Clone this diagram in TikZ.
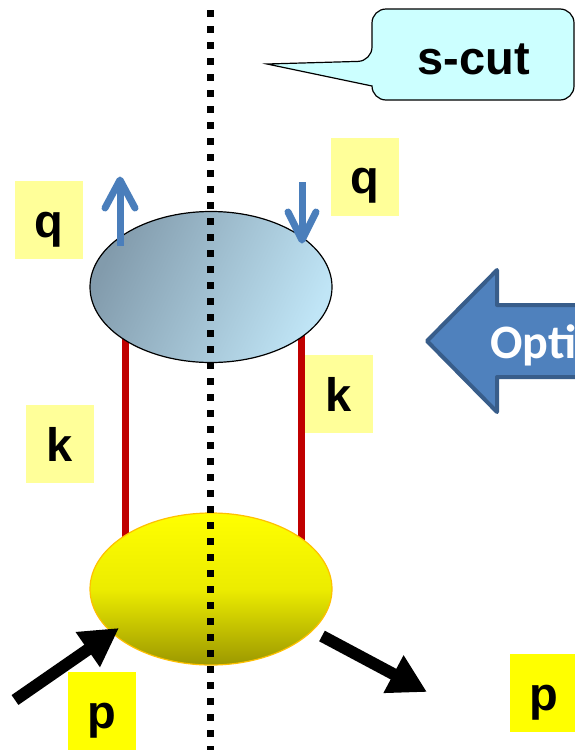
\documentclass[tikz,border=0pt]{standalone}
\usepackage{fontspec}
\setmainfont{Liberation Sans}
\newfontfamily\calfont{Carlito}
\usetikzlibrary{arrows.meta,shapes.geometric}

\definecolor{qblue}{RGB}{74,126,187}
\definecolor{cutred}{RGB}{192,0,0}
\definecolor{paleyel}{RGB}{255,255,153}
\definecolor{brightyel}{RGB}{255,255,0}
\definecolor{callcyan}{RGB}{204,255,255}
\definecolor{bigfill}{RGB}{79,129,189}
\definecolor{bigedge}{RGB}{56,93,138}
\definecolor{blobdark}{RGB}{130,155,172}
\definecolor{bloblight}{RGB}{192,229,246}
\definecolor{softtop}{RGB}{255,255,0}
\definecolor{softmid}{RGB}{236,236,0}
\definecolor{softbot}{RGB}{156,152,0}
\definecolor{softedge}{RGB}{255,192,0}

\begin{document}
\begin{tikzpicture}[x=1pt,y=-1pt,
  lbl/.style={font=\fontsize{47}{47}\selectfont\bfseries, fill=paleyel,
    minimum width=68pt, minimum height=78pt, inner sep=0pt,
    text height=34pt, text depth=0pt},
  plbl/.style={lbl, fill=brightyel},
  cutline/.style={line width=7pt, dash pattern=on 7pt off 9pt},
  rung/.style={cutred, line width=7pt},
  flow/.style={line width=12pt, -{Triangle[length=38pt,width=40pt]}},
  smallarrow/.style={qblue, line width=7pt},
  barb/.style={qblue, line width=7pt, line cap=round, line join=round}]
\useasboundingbox (0,0) rectangle (575,750);
\clip (0,0) rectangle (575,750);

% rungs between the two blobs
\coordinate (la) at (125,330);
\coordinate (lb) at (125,545);
\coordinate (ra) at (301,330);
\coordinate (rb) at (301,543);
\draw[rung] (la) -- (lb);
\draw[rung] (ra) -- (rb);

% upper blob
\node[ellipse, draw=black, line width=1.2pt, minimum width=242pt, minimum height=151pt,
  inner sep=0pt, top color=blobdark, bottom color=bloblight, shading angle=65]
  (blob) at (211,287) {};

% lower blob
\node[ellipse, draw=softedge, line width=1.2pt, minimum width=242pt, minimum height=152pt,
  inner sep=0pt, top color=softtop, bottom color=softbot, middle color=softmid]
  (soft) at (211,589) {};

% small blue arrows on the upper blob
\coordinate (uq0) at (120,246);
\coordinate (uq1) at (120,184);
\draw[smallarrow] (uq0) -- (uq1);
\draw[barb] (105,208) -- (120,180) -- (135,208);
\coordinate (dq0) at (302,182);
\coordinate (dq1) at (302,238);
\draw[smallarrow] (dq0) -- (dq1);
\draw[barb] (288,212) -- (302,240) -- (316,212);

% incoming and outgoing momentum arrows
\coordinate (pin) at (15,700);
\coordinate (pint) at (119,628);
\coordinate (pout) at (322,636);
\coordinate (poutt) at (427,692);
\draw[flow] (pin) -- (pint);
\draw[flow] (pout) -- (poutt);

% the cut
\coordinate (ctop) at (210,10);
\coordinate (cbot) at (210,752);
\draw[cutline] (ctop) -- (cbot);

% labels
\node[lbl] (q1) at (48.5,220) {q};
\node[lbl] (q2) at (364.5,176.5) {q};
\node[lbl] (k2) at (338.5,394) {k};
\node[lbl] (k1) at (60,444) {k};
\node[plbl] (p1) at (101.5,711) {p};
\node[plbl] (p2) at (544,693) {p};

% callout
\draw[fill=callcyan, line width=1.2pt, rounded corners=14pt]
  (372,61) [sharp corners] -- (267,64) -- (372,86) [rounded corners=14pt]
  -- (372,100) -- (574,100) -- (574,9) -- (372,9) -- cycle;
\node[font=\fontsize{47}{47}\selectfont\bfseries, anchor=base] (scut) at (474,74) {s-cut};

% block arrow
\draw[fill=bigfill, draw=bigedge, line width=4pt, line join=round]
  (427,341) -- (497,270) -- (497,305) -- (600,305) -- (600,377)
  -- (497,377) -- (497,412) -- cycle;
\node[font=\calfont\fontsize{48}{48}\selectfont\bfseries, text=white, anchor=base west,
  inner sep=0pt] (opt) at (490,358) {Opti};
\end{tikzpicture}
\end{document}
